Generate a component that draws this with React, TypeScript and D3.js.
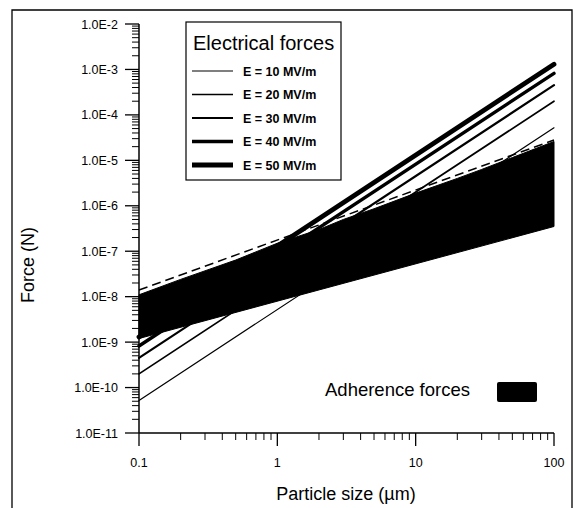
import * as d3 from 'd3'

const W = 573
const H = 508

// particle size (um) where the electrical force lines are drawn
const sizes = [0.1, 100]
const fieldLabels = ['E = 10 MV/m', 'E = 20 MV/m', 'E = 30 MV/m', 'E = 40 MV/m', 'E = 50 MV/m']
const fieldAtSmall = [5.2e-11, 2.0e-10, 4.5e-10, 8.2e-10, 1.3e-9]
const fieldAtLarge = [5.2e-5, 2.0e-4, 4.5e-4, 8.2e-4, 1.3e-3]
const fieldWidths = [1.2, 1.7, 2.2, 3.4, 4.8]

// adherence force band (upper ragged edge, lower edge)
const upperSizes = [0.1, 0.2, 0.5, 1, 2, 3, 5, 10, 20, 30, 50, 100]
const upperForces = [1.1e-8, 2.4e-8, 6.4e-8, 1.5e-7, 3.0e-7, 5.0e-7, 8.6e-7, 1.9e-6, 4.0e-6, 6.3e-6, 1.15e-5, 2.6e-5]
const lowerSizes = [0.1, 100]
const lowerForces = [1.2e-9, 3.5e-7]
const dashedForces = [1.4e-8, 2.8e-5]

const yTicks = [1e-2, 1e-3, 1e-4, 1e-5, 1e-6, 1e-7, 1e-8, 1e-9, 1e-10, 1e-11]
const xTicks = [0.1, 1, 10, 100]

export default function App() {
  const x = d3.scaleLog().domain([0.1, 100]).range([139, 554])
  const y = d3.scaleLog().domain([1e-11, 1e-2]).range([433, 24])

  const line = d3.line<[number, number]>()
    .x(d => x(d[0]))
    .y(d => y(d[1]))

  const bandPts: [number, number][] = [
    ...upperSizes.map((s, i) => [s, upperForces[i]] as [number, number]),
    ...lowerSizes.map((s, i) => [s, lowerForces[i]] as [number, number]).reverse(),
  ]

  const xMinor: number[] = []
  for (let dec = 0.1; dec < 100; dec *= 10) {
    for (let k = 2; k <= 9; k++) xMinor.push(dec * k)
  }
  const yMinor: number[] = []
  for (let p = -11; p < -2; p++) {
    for (let k = 2; k <= 9; k++) yMinor.push(k * Math.pow(10, p))
  }

  const font = 'Arial, "Liberation Sans", Helvetica, sans-serif'
  const fmt = (v: number) => '1.0E' + Math.round(Math.log10(v))

  return (
    <svg width={W} height={H} style={{ position: 'absolute', left: 0, top: 0, background: '#fff' }} fontFamily={font}>
      {/* outer frame */}
      <path d={`M12,${H} L12,10 L572,10 L572,${H}`} fill="none" stroke="#000" strokeWidth={1.3} />

      {/* adherence band */}
      <path d={line(bandPts) + 'Z'} fill="#000" stroke="#000" strokeWidth={1} />
      <path d={line(sizes.map((s, i) => [s, dashedForces[i]]) as [number, number][]) || ''}
        fill="none" stroke="#000" strokeWidth={1.5} strokeDasharray="9,5" />

      {/* electrical force lines */}
      {fieldLabels.map((_, i) => (
        <path key={i} d={line([[sizes[0], fieldAtSmall[i]], [sizes[1], fieldAtLarge[i]]]) || ''}
          fill="none" stroke="#000" strokeWidth={fieldWidths[i]} strokeLinecap="round" />
      ))}

      {/* axes */}
      <line x1={139} x2={139} y1={24} y2={433} stroke="#000" strokeWidth={1.5} />
      <line x1={139} x2={554} y1={433} y2={433} stroke="#000" strokeWidth={1.5} />
      {yTicks.map(t => (
        <g key={t}>
          <line x1={125} x2={139} y1={y(t)} y2={y(t)} stroke="#000" strokeWidth={1.3} />
          <text x={118} y={y(t) + 4.5} textAnchor="end" fontSize={12.5}>{fmt(t)}</text>
        </g>
      ))}
      {yMinor.map(t => (
        <line key={t} x1={132} x2={139} y1={y(t)} y2={y(t)} stroke="#000" strokeWidth={1} />
      ))}
      {xTicks.map(t => (
        <g key={t}>
          <line x1={x(t)} x2={x(t)} y1={433} y2={446} stroke="#000" strokeWidth={1.3} />
          <text x={x(t)} y={467} textAnchor="middle" fontSize={12.5}>{String(t)}</text>
        </g>
      ))}
      {xMinor.map(t => (
        <line key={t} x1={x(t)} x2={x(t)} y1={433} y2={440} stroke="#000" strokeWidth={1} />
      ))}

      <text x={346} y={500} textAnchor="middle" fontSize={18}>Particle size (µm)</text>
      <text transform="translate(34,265) rotate(-90)" textAnchor="middle" fontSize={18}>Force (N)</text>

      {/* legend */}
      <rect x={186} y={22} width={155} height={158} fill="#fff" stroke="#000" strokeWidth={1.2} />
      <text x={193} y={50} fontSize={20}>Electrical forces</text>
      {fieldLabels.map((lab, i) => (
        <g key={lab}>
          <line x1={192} x2={233} y1={71 + i * 23.5} y2={71 + i * 23.5} stroke="#000" strokeWidth={fieldWidths[i]} />
          <text x={243} y={75.5 + i * 23.5} fontSize={12.5} fontWeight="bold">{lab}</text>
        </g>
      ))}

      <text x={325} y={396} fontSize={18.5}>Adherence forces</text>
      <rect x={497} y={382} width={40} height={20} rx={2} fill="#000" />
    </svg>
  )
}
